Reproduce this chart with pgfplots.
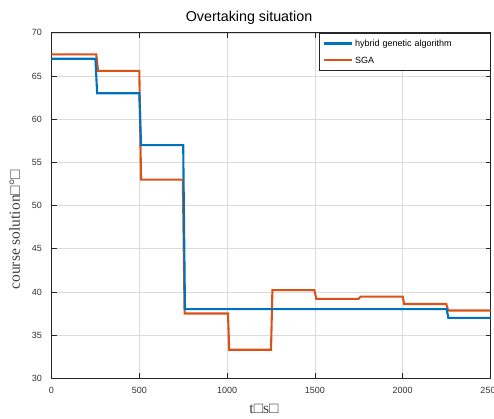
\documentclass[border=0pt]{standalone}
\usepackage{fontspec}
\setmainfont{Liberation Sans}
\newfontfamily\serifl{Liberation Serif}
\usepackage{pgfplots}
\pgfplotsset{compat=1.18}
\definecolor{mblue}{RGB}{0,114,189}
\definecolor{morange}{RGB}{217,83,25}
\begin{document}
\begin{tikzpicture}
\begin{axis}[
  scale only axis, width=439pt, height=345.5pt,
  xmin=0, xmax=2500, ymin=30, ymax=70,
  xtick={0,500,1000,1500,2000,2500},
  ytick={30,35,40,45,50,55,60,65,70},
  /pgf/number format/assume math mode=true,
  /pgf/number format/set thousands separator={},
  scaled x ticks=false,
  tick label style={font=\fontsize{9}{10}\selectfont, text=black!80},
  xticklabel style={yshift=-5pt},
  yticklabel style={xshift=-6pt},
  tick align=inside, major tick length=5pt,
  tick style={black!85, line width=0.6pt},
  axis line style={black!85, line width=0.7pt},
  grid=major, grid style={black!14, line width=0.5pt},
  title={Overtaking situation},
  title style={font=\fontsize{14.3}{16}\selectfont, at={(axis description cs:0.45,1.032)}, anchor=base, inner sep=0pt, yshift=-6pt},
  xlabel={\serifl t□s□},
  xlabel style={font=\fontsize{15.5}{17}\selectfont, text=black!75, at={(axis description cs:0.484,-0.1033)}, anchor=base, inner sep=0pt},
  ylabel={\serifl course solution□°□},
  ylabel style={font=\fontsize{15.5}{17}\selectfont, text=black!75, at={(axis description cs:-0.0718,0.4295)}, anchor=base, inner sep=0pt},
]
\addplot[morange, line width=2.1pt] coordinates {
 (0,67.5) (255,67.5) (265,65.6) (500,65.6) (510,53) (748,53) (758,37.5) (1005,37.5) (1012,33.3)
 (1250,33.3) (1258,40.2) (1497,40.2) (1508,39.2) (1748,39.2) (1760,39.45) (2000,39.45)
 (2008,38.6) (2248,38.6) (2259,37.85) (2500,37.85)};
\addplot[mblue, line width=2.1pt] coordinates {
 (0,67) (250,67) (260,63) (500,63) (510,57) (750,57) (760,38) (2250,38) (2260,37) (2500,37)};
\coordinate (bl) at (rel axis cs:0,0);
\coordinate (tr) at (rel axis cs:1,1);
\end{axis}
\node[draw=black!85, line width=0.6pt, fill=white, anchor=north east, inner sep=0pt,
  text width=171pt, align=left, font=\fontsize{9}{16.7}\selectfont] at (tr) {%
  \noindent\rule{0pt}{13.7pt}\hspace*{4.7pt}\textcolor{mblue}{\rule[2.0pt]{28pt}{2.4pt}}\hspace{3.3pt}hybrid genetic algorithm\\
  \rule[-6.6pt]{0pt}{6.6pt}\hspace*{4.7pt}\textcolor{morange}{\rule[2.0pt]{28pt}{2.4pt}}\hspace{3.3pt}SGA};
\pgfresetboundingbox
\path[use as bounding box] ([xshift=-51.5pt,yshift=-40.7pt]bl) rectangle ([xshift=3.5pt,yshift=32.8pt]tr);
\end{tikzpicture}
\end{document}
